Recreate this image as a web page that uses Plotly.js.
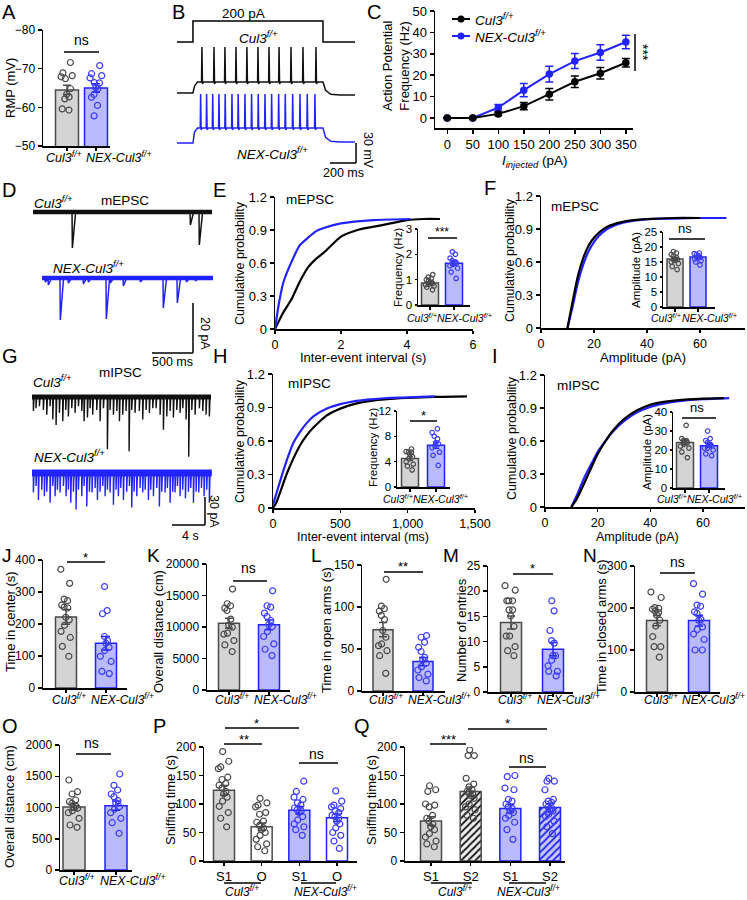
<!DOCTYPE html>
<html><head><meta charset="utf-8">
<script src="https://cdn.plot.ly/plotly-3.0.1.min.js"></script>
<style>html,body{margin:0;padding:0;background:#fff}#chart{width:747px;height:900px}</style>
</head><body><div id="chart"></div>
<script>
// ================= DATA =================
const genotypes = ['<i>Cul3<sup>f/+</sup></i>', '<i>NEX-Cul3<sup>f/+</sup></i>'];
// A: resting membrane potential (mV)
const rmpCul3 = [-71.6,-68.9,-68.2,-67.9,-67.4,-64.8,-63.4,-62.7,-62.2,-59.6,-59.3];
const rmpNEX = [-70.8,-68.7,-68.2,-67.6,-66.4,-66.3,-65.1,-64.8,-63.3,-62.6,-60.5,-57.8];
const rmpMean = [-64.5,-65.0];
const rmpSem = [1.2,1.1];
// B: 200 pA step, spike times (ms) and membrane levels [rest, plateau, peak, after] (mV)
const stepCurrent = [0,200];
const stepWindow = [0,1000];
const spikeTimesCul3 = [69,162,246,331,415,500,585,662,754,846,946];
const spikeTimesNEX = [59,105,152,200,248,300,348,400,451,502,554,605,659,710,767,823,879,938];
const vmCul3 = [-65,-48.5,4,-68];
const vmNEX = [-65,-42.5,8.5,-63.5];
// C: AP frequency (Hz) vs injected current (pA)
const currentSteps = [0,50,100,150,200,250,300,350];
const apFreqCul3 = [0,0,1.9,5.5,11.1,16.9,20.9,25.8];
const apSemCul3 = [0,0,0.8,1.7,2.7,2.7,2.7,2.0];
const apFreqNEX = [0,0,4.8,13.0,20.5,26.6,30.6,35.5];
const apSemNEX = [0,0,1.5,3.1,3.7,3.5,3.6,3.2];
// D: mEPSC events (ms, pA)
const mepscCul3Times = [476,1915,2024];
const mepscCul3Amps = [14.4,5.2,13.2];
const mepscNEXTimes = [146,183,329,427,610,671,890,939,1098,1305,1585,1756,1866,1976];
const mepscNEXAmps = [1.6,2.8,16.8,2,2.4,1.6,16.4,2,3.2,1.6,12,10,1.6,1.2];
// E: mEPSC inter-event interval cumulative (s)
const eCul3X = [0,0.25,0.5,0.75,1,1.25,1.5,2,2.5,3,3.5,4,4.5,5];
const eCul3Y = [0,0.15,0.27,0.43,0.56,0.64,0.7,0.84,0.9,0.93,0.96,0.99,1.0,1.0];
const eNEXX = [0,0.1,0.25,0.5,0.75,1,1.25,1.5,2,3,4.1];
const eNEXY = [0,0.2,0.42,0.61,0.76,0.83,0.89,0.92,0.96,0.99,1.0];
const mepscFreqCul3 = [1.2,1.1,1.05,1.0,0.95,0.9,0.88,0.85,0.82,0.8,0.75,0.7,0.6];
const mepscFreqNEX = [2.1,2.0,1.85,1.75,1.7,1.68,1.65,1.6,1.55,1.45,1.3,1.05];
const mepscFreqMean = [0.87,1.65];
const mepscFreqSem = [0.05,0.08];
// F: mEPSC amplitude cumulative (pA)
const fCul3X = [10,12,14,16,18,20,22,25,30,35,40,50,60];
const fCul3Y = [0,0.25,0.48,0.64,0.75,0.82,0.87,0.92,0.96,0.98,0.99,1.0,1.0];
const fNEXX = [10,12,14,16,18,20,22,25,30,35,40,50,60,70];
const fNEXY = [0,0.2,0.42,0.58,0.7,0.78,0.84,0.9,0.95,0.975,0.99,0.995,1.0,1.0];
const mepscAmpCul3 = [18.5,18,17.5,17,16.5,16,15.8,15.5,15,14.5,13.5,12.5];
const mepscAmpNEX = [18,17.8,17.5,17,16.8,16.5,16.5,16,15.5,15,14];
const mepscAmpMean = [16.0,16.7];
const mepscAmpSem = [0.5,0.4];
// G: mIPSC events (s, pA)
const mipscCul3Times = [0.16,0.48,0.89,1.37,1.78,2.18,2.51,2.91,3.31,3.72,4.08,4.40,4.81,5.21,5.62,6.02,6.30,6.71,7.03,7.35,7.84,8.24,8.65,9.13,9.45,9.86,10.27,10.59,10.99,11.39,11.76,12.08,12.48,13.0,13.41,13.82,14.22,14.63,15.03,15.52,15.92,16.33,16.73,17.13,17.54,17.94,18.27,18.67,18.99,19.36,19.76,20.28,20.69,21.09,21.49];
const mipscCul3Amps = [15,12,10,14,19,10,24,30,17,26,14,21,12,17,10,15,26,22,12,19,14,26,12,56,14,19,15,26,19,15,58,14,17,15,24,14,17,12,12,19,35,21,15,22,14,17,12,24,64,14,19,12,15,19,21];
const mipscNEXTimes = [0.16,0.48,0.77,1.17,1.49,1.78,2.18,2.51,2.79,3.07,3.39,3.80,4.12,4.40,4.69,5.01,5.33,5.62,6.02,6.30,6.63,6.95,7.27,7.64,7.92,8.24,8.57,8.85,9.13,9.45,9.86,10.18,10.46,10.75,11.07,11.47,11.80,12.08,12.36,12.69,13.09,13.41,13.70,14.10,14.38,14.71,15.11,15.43,15.72,16.12,16.40,16.73,17.05,17.33,17.62,17.94,18.26,18.59,18.95,19.23,19.56,19.88,20.20,20.53,20.85,21.17,21.49];
const mipscNEXAmps = [21,14,29,18,25,20,32,14,25,18,21,14,25,18,32,20,39,18,25,14,36,20,21,16,29,20,14,25,18,21,34,18,25,16,29,20,14,37,20,25,16,21,18,29,18,25,16,36,20,21,16,32,20,21,14,25,18,27,20,16,32,20,21,16,25,18,32];
// H: mIPSC inter-event interval cumulative (ms)
const hCul3X = [0,25,50,100,150,200,250,300,400,500,600,700,850,1000,1200,1440];
const hCul3Y = [0,0.05,0.13,0.3,0.44,0.56,0.65,0.72,0.83,0.89,0.93,0.955,0.975,0.985,0.995,1.0];
const hNEXX = [0,25,50,100,150,200,250,300,400,500,600,700,850,1000,1200];
const hNEXY = [0.03,0.13,0.23,0.42,0.58,0.68,0.76,0.82,0.89,0.93,0.955,0.97,0.985,0.99,1.0];
const mipscFreqCul3 = [6,5.6,5.5,5.5,5.2,4.8,4.5,4,3.6,3.3,2.7];
const mipscFreqNEX = [9.2,8.6,8,7.6,7,6.8,6.5,6.2,5.5,5,3.4];
const mipscFreqMean = [4.5,6.6];
const mipscFreqSem = [0.3,0.5];
// I: mIPSC amplitude cumulative (pA)
const iCul3X = [10,12,15,18,20,23,26,30,35,40,45,50,60,68];
const iCul3Y = [0,0.07,0.22,0.38,0.48,0.6,0.7,0.8,0.88,0.93,0.955,0.97,0.985,0.99];
const iNEXX = [10,12,15,18,20,23,26,30,35,40,45,50,60,70];
const iNEXY = [0,0.1,0.27,0.41,0.5,0.6,0.69,0.78,0.86,0.91,0.94,0.96,0.98,0.99];
const mipscAmpCul3 = [33,26,25,25,24,24,23,22,21,19,16];
const mipscAmpNEX = [30,26,25,24,23,23,22,21,21,20,18,17];
const mipscAmpMean = [24,22.3];
const mipscAmpSem = [1.3,1.0];
// J: time in center (s)
const centerCul3 = [371,327,278,273,259,253,250,221,213,196,177,158,130,99];
const centerNEX = [317,242,232,161,148,140,127,117,99,83,52,45];
const centerMean = [222,140];
const centerSem = [23,21];
// K: overall distance (cm)
const distKCul3 = [16020,13690,13370,13000,12620,11250,10290,9970,9020,8860,7850,7160,6100];
const distKNEX = [15750,13370,13150,12200,11670,11030,10400,10080,9280,8490,7320,6470,5460];
const distKMean = [10600,10350];
const distKSem = [800,780];
// L: time in open arms (s)
const openCul3 = [133,101,98,95,90,85,72,64,56,54,48,42,21];
const openNEX = [66,64,58,52,47,40,37,33,29,25,20,16,12];
const openMean = [73,35];
const openSem = [8.5,5];
// M: number of entries
const entriesCul3 = [21.1,20.2,18.1,18.1,18.1,16.3,16.3,15.1,13,11.1,11.1,9,8.2,7.2];
const entriesNEX = [18.1,16.1,12.2,10.2,9.7,7.2,7.2,6.3,5.2,4.1,4.1,3.2];
const entriesMean = [13.8,8.5];
const entriesSem = [1.3,1.3];
// N: time in closed arms (s)
const closedCul3 = [238,225,201,199,197,193,189,183,171,157,132,108,108,83];
const closedNEX = [258,233,207,204,191,187,173,171,155,149,138,125,100,100];
const closedMean = [170,170];
const closedSem = [12,13];
// O: overall distance (cm)
const distOCul3 = [1440,1253,1216,1120,1093,1067,1024,1003,987,949,917,827,720,683];
const distONEX = [1536,1355,1280,1216,1173,1109,1077,1013,971,917,827,757,587];
const distOMean = [1010,1030];
const distOSem = [55,75];
// P: sniffing time (s), S1 vs object
const sessionsP = ['S1','O','S1','O'];
const sniffPCul3S1 = [192,175,165,162,147,143,136,133,128,122,118,112,105,96,85,75,60];
const sniffPCul3O = [110,102,98,95,85,82,70,68,62,58,55,50,45,38,30,25,18];
const sniffPNEXS1 = [140,122,112,108,102,98,93,90,88,85,78,72,65,60,55,45];
const sniffPNEXO = [123,105,98,95,92,88,85,80,78,75,70,65,58,50,45,35,22];
const sniffPMean = [124,60,89,76];
const sniffPSem = [8.5,6.5,6.5,6.5];
// Q: sniffing time (s), S1 vs S2
const sessionsQ = ['S1','S2','S1','S2'];
const sniffQCul3S1 = [132,125,122,100,98,95,80,75,70,65,60,55,48,42,35,30,25];
const sniffQCul3S2 = [195,185,185,145,135,130,125,122,120,118,115,110,100,95,90,80,75];
const sniffQNEXS1 = [150,148,128,125,108,105,100,95,92,88,85,80,75,68,55,38];
const sniffQNEXS2 = [145,140,140,125,108,105,103,100,95,92,90,88,82,78,70,60,48];
const sniffQMean = [70,122,92,94];
const sniffQSem = [7.5,8,7,7];

// ================= STYLE / LAYOUT =================
const W = 747, H = 900;
const FONT = 'Liberation Sans, Arial, Helvetica, sans-serif';
const GRAYLINE = '#4a4a4a', GRAYFILL = '#d4d4d4', BLUE = '#2222ff', BLUEFILL = '#babaff', BLUEPT = '#3c3cff';
const data = [];
const layout = {
  width: W, height: H, margin: {l:0, r:0, t:0, b:0},
  paper_bgcolor: '#fff', plot_bgcolor: 'rgba(0,0,0,0)',
  showlegend: false, barmode: 'overlay',
  font: {family: FONT, size: 13, color: '#000'},
  annotations: [], shapes: []
};
let nAx = 0;
function axes(xpx, ypx, xo, yo) {
  nAx++;
  const s = nAx === 1 ? '' : String(nAx);
  const base = {showgrid:false, zeroline:false, showline:true, linecolor:'#000', linewidth:1.5,
    ticks:'outside', ticklen:4, tickwidth:1.5, tickcolor:'#000',
    tickfont:{family:FONT, size:12, color:'#000'}, fixedrange:true, automargin:false};
  layout['xaxis' + s] = Object.assign({}, base, {domain:[xpx[0]/W, xpx[1]/W], anchor:'y' + s}, xo || {});
  layout['yaxis' + s] = Object.assign({}, base, {domain:[1 - ypx[1]/H, 1 - ypx[0]/H], anchor:'x' + s}, yo || {});
  return {x:'x' + s, y:'y' + s};
}
function txt(x, y, text, o) {
  o = o || {};
  const font = Object.assign({family:FONT, size:13, color:'#000'}, o.font || {});
  const a = Object.assign({xref:'paper', yref:'paper', x:x/W, y:1 - y/H, text:text, showarrow:false,
    xanchor:'center', yanchor:'middle', borderpad:0}, o);
  a.font = font;
  layout.annotations.push(a);
}
function seg(x0, y0, x1, y1, color, width) {
  layout.shapes.push({type:'line', xref:'paper', yref:'paper', x0:x0/W, x1:x1/W, y0:1 - y0/H, y1:1 - y1/H,
    line:{color:color || '#000', width:width || 1.5}});
}
function dseg(ax, x0, y0, x1, y1, color, width) {
  layout.shapes.push({type:'line', xref:ax.x, yref:ax.y, x0:x0, x1:x1, y0:y0, y1:y1,
    line:{color:color || '#000', width:width || 1.5}});
}
// bar + points panel
function barPanel(spec, groups) {
  const n = groups.length;
  const s = (spec.bars[1] - spec.bars[0]) / (n - 1);
  const xr = [(spec.x[0] - spec.bars[0]) / s, (spec.x[1] - spec.bars[0]) / s];
  const tf = {family:FONT, size:spec.tick || 12, color:'#000'};
  const xo = {range:xr, tickmode:'array', tickvals:groups.map((g, i) => i), ticklen:3};
  if (spec.ticktext) { xo.ticktext = spec.ticktext; xo.tickfont = {family:FONT, size:13, color:'#000'}; }
  else { xo.showticklabels = false; }
  const yo = {range:spec.yrange, tickmode:'array', tickvals:spec.yticks, tickfont:tf, ticklen:spec.ytl || 4};
  if (spec.yfmt) yo.tickformat = spec.yfmt;
  const ax = axes(spec.x, spec.y, xo, yo);
  const w = spec.barPx / s;
  groups.forEach((g, i) => {
    const bar = {type:'bar', x:[i], y:[g.mean], width:[w], xaxis:ax.x, yaxis:ax.y, hoverinfo:'skip',
      marker:{color:g.fill, line:{color:g.line, width:1.5}},
      error_y:{type:'data', array:[g.sem], color:g.line, thickness:1.5, width:spec.cap || 4}};
    if (g.pattern) bar.marker.pattern = g.pattern;
    data.push(bar);
    data.push({type:'box', x0:i, y:g.pts, xaxis:ax.x, yaxis:ax.y, boxpoints:'all', jitter:0.75, pointpos:0,
      width:w * 0.85, fillcolor:'rgba(0,0,0,0)', line:{width:0, color:g.pt}, whiskerwidth:0, hoverinfo:'skip',
      marker:{symbol:'circle-open', size:spec.pt || 6, color:g.pt, line:{width:1.2, color:g.pt}}});
  });
  return ax;
}
function genoLabels(spec, y, size, gap) {
  const mid = (spec.bars[0] + spec.bars[1]) / 2;
  txt(mid + 1, y, genotypes[0], {xanchor:'right', font:{size:size}});
  txt(mid + (gap || 4), y, genotypes[1], {xanchor:'left', font:{size:size}});
}
function insetLabels(spec, y, size, shift) {
  const mid = (spec.bars[0] + spec.bars[1]) / 2 + shift;
  const w0 = 2.86 * size, w1 = 5.25 * size, total = w0 + w1 + 3;
  const left = mid - total / 2;
  txt(left, y, genotypes[0], {xanchor:'left', font:{size:size}});
  txt(left + total, y, genotypes[1], {xanchor:'right', font:{size:size}});
}
const gC = (mean, sem, pts) => ({mean, sem, pts, fill:GRAYFILL, line:GRAYLINE, pt:GRAYLINE});
const gN = (mean, sem, pts) => ({mean, sem, pts, fill:BLUEFILL, line:BLUE, pt:BLUEPT});
function sig(x, y, label, x0, x1, ly, size) {
  txt(x, y, label, {font:{size:size || 13}});
  seg(x0, ly, x1, ly);
}

// ---------- panel letters ----------
[['A',1,12,20],['B',171,12,20],['C',366,12,20],['D',1,190,20],['E',212,190,20],['F',483,188,20],['G',1,356,20],['H',212,356,20],['I',491,356,20],
 ['J',1,555,19],['K',146,555,19],['L',310,555,19],['M',442,555,19],['N',582,555,19],['O',1,726,20],['P',152,726,20],['Q',353,726,20]]
 .forEach(p => txt(p[1], p[2], p[0], {xanchor:'left', font:{size:p[3]}}));

// ---------- A ----------
const specA = {x:[43,110], y:[30,146], bars:[67,96], barPx:23, yrange:[-50,-80], yticks:[-80,-70,-60,-50]};
barPanel(specA, [gC(rmpMean[0], rmpSem[0], rmpCul3), gN(rmpMean[1], rmpSem[1], rmpNEX)]);
genoLabels(specA, 157, 12.5, 3);
txt(11, 88, 'RMP (mV)', {textangle:-90});
sig(81, 40, 'ns', 64, 99, 52, 14);

// ---------- B ----------
function buildAP(spikes, vm, offset, tStart, tOn, tOff, tEnd) {
  const rest = vm[0], plateau = vm[1], peak = vm[2], after = vm[3];
  const x = [tStart, tOn, tOn + 12, tOn + 35], y = [rest, rest, plateau - 6, plateau];
  spikes.forEach(t => { x.push(t - 3, t, t + 4, t + 12); y.push(plateau, peak, plateau - 3, plateau); });
  x.push(tOff, tOff + 20, tOff + 60, tOff + 130, tEnd);
  y.push(plateau, after + 7, after + 1, after, after);
  return {x:x, y:y.map(v => v + offset)};
}
const axB = axes([175,365], [5,175], {visible:false, range:[-138,1323]}, {visible:false, range:[-188,67]});
const cmdScale = 31.5 / 200, cmdBase = 11.5;
data.push({type:'scatter', mode:'lines', xaxis:axB.x, yaxis:axB.y, hoverinfo:'skip',
  x:[-123, stepWindow[0], stepWindow[0], stepWindow[1], stepWindow[1], 1246],
  y:[stepCurrent[0], stepCurrent[0], stepCurrent[1], stepCurrent[1], stepCurrent[0], stepCurrent[0]].map(v => cmdBase + v * cmdScale),
  line:{color:'#000', width:1.5}});
const apC = buildAP(spikeTimesCul3, vmCul3, 0, -123, stepWindow[0], stepWindow[1], 1246);
const apN = buildAP(spikeTimesNEX, vmNEX, -75, -123, stepWindow[0], stepWindow[1], 1246);
data.push({type:'scatter', mode:'lines', xaxis:axB.x, yaxis:axB.y, hoverinfo:'skip', x:apC.x, y:apC.y, line:{color:'#111', width:1.5}});
data.push({type:'scatter', mode:'lines', xaxis:axB.x, yaxis:axB.y, hoverinfo:'skip', x:apN.x, y:apN.y, line:{color:BLUE, width:1.5}});
dseg(axB, 1054, -170, 1254, -170); dseg(axB, 1254, -170, 1254, -140);
txt(243, 13, stepCurrent[1] + ' pA', {font:{size:13.5}});
txt(258, 37, genotypes[0], {font:{size:13.5}});
txt(272, 153, genotypes[1], {font:{size:13.5}});
txt(368, 150, '30 mV', {textangle:90, font:{size:12.5}});
txt(343, 173, '200 ms', {font:{size:12.5}});

// ---------- C ----------
const tf13 = {family:FONT, size:13, color:'#000'};
const axC = axes([435,633], [11,128],
  {range:[-24,364], tickmode:'array', tickvals:currentSteps, tickfont:tf13},
  {range:[-4.7,50], tickmode:'array', tickvals:[0,10,20,30,40,50], tickfont:tf13});
data.push({type:'scatter', mode:'lines+markers', xaxis:axC.x, yaxis:axC.y, x:currentSteps, y:apFreqNEX, hoverinfo:'skip',
  line:{color:BLUE, width:2}, marker:{color:BLUE, size:7.5},
  error_y:{type:'data', array:apSemNEX, color:BLUE, thickness:1.5, width:4}});
data.push({type:'scatter', mode:'lines+markers', xaxis:axC.x, yaxis:axC.y, x:currentSteps, y:apFreqCul3, hoverinfo:'skip',
  line:{color:'#000', width:2}, marker:{color:'#000', size:7.5},
  error_y:{type:'data', array:apSemCul3, color:'#000', thickness:1.5, width:4}});
txt(396, 66, 'Action Potential<br>Frequency (Hz)', {textangle:-90, font:{size:13}});
txt(535, 162, '<i>I<sub>injected</sub></i> (pA)', {font:{size:13.5}});
seg(452, 19, 470, 19, '#000', 2);
layout.shapes.push({type:'circle', xref:'paper', yref:'paper', x0:(461 - 3.5)/W, x1:(461 + 3.5)/W, y0:1 - (19 + 3.5)/H, y1:1 - (19 - 3.5)/H, fillcolor:'#000', line:{width:0}});
txt(474, 19, genotypes[0], {xanchor:'left', font:{size:13.5}});
seg(452, 36, 470, 36, BLUE, 2);
layout.shapes.push({type:'circle', xref:'paper', yref:'paper', x0:(461 - 3.5)/W, x1:(461 + 3.5)/W, y0:1 - (36 + 3.5)/H, y1:1 - (36 - 3.5)/H, fillcolor:BLUE, line:{width:0}});
txt(474, 36, genotypes[1], {xanchor:'left', font:{size:13.5}});
seg(635, 34, 635, 71);
txt(643, 52, '***', {textangle:90, font:{size:14}});

// ---------- D ----------
function buildEvents(times, amps, offset, tStart, tEnd, rise, decay) {
  const x = [tStart], y = [offset];
  times.forEach((t, i) => { x.push(t, t + rise, t + rise + decay); y.push(offset, offset - amps[i], offset); });
  x.push(tEnd); y.push(offset);
  return {x:x, y:y};
}
const axD = axes([33,213], [195,360], {visible:false, range:[0,2195]}, {visible:false, range:[-59.2,6.8]});
[[mepscCul3Times, mepscCul3Amps, 0, 0, 2183, '#111'], [mepscNEXTimes, mepscNEXAmps, -26.4, 110, 2195, BLUE]].forEach(r => {
  data.push({type:'scatter', mode:'lines', xaxis:axD.x, yaxis:axD.y, hoverinfo:'skip', x:[r[3], r[4]], y:[r[2], r[2]], line:{color:r[5], width:4.5}});
  const ev = buildEvents(r[0], r[1], r[2], r[3], r[4], 4, 40);
  data.push({type:'scatter', mode:'lines', xaxis:axD.x, yaxis:axD.y, hoverinfo:'skip', x:ev.x, y:ev.y, line:{color:r[5], width:1.5}});
});
dseg(axD, 1451, -56.4, 1951, -56.4); dseg(axD, 1951, -56.4, 1951, -36.4);
txt(125, 200, 'mEPSC', {font:{size:13.5}});
txt(33, 202, genotypes[0], {xanchor:'left', font:{size:13.5}});
txt(52, 267, genotypes[1], {xanchor:'left', font:{size:13.5}});
txt(205, 333, '20 pA', {textangle:90, font:{size:12.5}});
txt(172, 362, '500 ms', {font:{size:12.5}});

// ---------- cumulative panels ----------
const cumY = {range:[0,1.2], tickmode:'array', tickvals:[0,0.3,0.6,0.9,1.2], ticktext:['0','0.3','0.6','0.9','1.2'], tickfont:tf13};
function cumLine(ax, x, y, color) {
  data.push({type:'scatter', mode:'lines', xaxis:ax.x, yaxis:ax.y, x:x, y:y, hoverinfo:'skip',
    line:{color:color, width:2.2, shape:'spline', smoothing:0.6}});
}
const tfx = {family:FONT, size:12.5, color:'#000'};
// E
const axE = axes([275,473], [197,329], {range:[0,6], tickmode:'array', tickvals:[0,2,4,6], tickfont:tfx, ticklen:3}, cumY);
cumLine(axE, eCul3X, eCul3Y, '#000'); cumLine(axE, eNEXX, eNEXY, BLUE);
txt(240, 263, 'Cumulative probability', {textangle:-90, font:{size:12.5}});
txt(363, 357, 'Inter-event interval (s)', {font:{size:13}});
txt(285, 199, 'mEPSC', {xanchor:'left', font:{size:13.5}});
const specEi = {x:[418,470], y:[229,305], bars:[430,454], barPx:17, yrange:[0,3], yticks:[0,1,2,3], tick:11.5, pt:4.5, cap:3, ytl:2};
barPanel(specEi, [gC(mepscFreqMean[0], mepscFreqSem[0], mepscFreqCul3), gN(mepscFreqMean[1], mepscFreqSem[1], mepscFreqNEX)]);
insetLabels(specEi, 318, 10.5, 8);
txt(398, 268, 'Frequency (Hz)', {textangle:-90, font:{size:11.5}});
sig(442, 232, '***', 428, 457, 238, 12);

// F
const axF = axes([541,745], [196,328], {range:[0,77], tickmode:'array', tickvals:[0,20,40,60], tickfont:tfx, ticklen:3}, cumY);
cumLine(axF, fNEXX, fNEXY, BLUE); cumLine(axF, fCul3X, fCul3Y, '#000');
txt(510, 260, 'Cumulative probability', {textangle:-90, font:{size:12.5}});
txt(643, 357, 'Amplitude (pA)', {font:{size:13}});
txt(550, 207, 'mEPSC', {xanchor:'left', font:{size:13.5}});
const specFi = {x:[663,715], y:[232,307], bars:[675,698], barPx:16, yrange:[0,25], yticks:[0,5,10,15,20,25], tick:11.5, pt:4.5, cap:3, ytl:2};
barPanel(specFi, [gC(mepscAmpMean[0], mepscAmpSem[0], mepscAmpCul3), gN(mepscAmpMean[1], mepscAmpSem[1], mepscAmpNEX)]);
insetLabels(specFi, 318, 10.5, 8);
txt(636, 270, 'Amplitude (pA)', {textangle:-90, font:{size:11.5}});
sig(685, 228, 'ns', 669, 705, 239, 13);

// ---------- G ----------
const axG = axes([32,212], [378,532], {visible:false, range:[0,21.82]}, {visible:false, range:[-144.5,20.3]});
[[mipscCul3Times, mipscCul3Amps, 0, 0, 21.7, '#111', 5], [mipscNEXTimes, mipscNEXAmps, -81.3, 0, 21.8, BLUE, 7]].forEach(r => {
  data.push({type:'scatter', mode:'lines', xaxis:axG.x, yaxis:axG.y, hoverinfo:'skip', x:[r[3], r[4]], y:[r[2], r[2]], line:{color:r[5], width:r[6]}});
  const ev = buildEvents(r[0], r[1], r[2], r[3], r[4], 0.01, 0.08);
  data.push({type:'scatter', mode:'lines', xaxis:axG.x, yaxis:axG.y, hoverinfo:'skip', x:ev.x, y:ev.y, line:{color:r[5], width:1.4}});
});
dseg(axG, 16.97, -137, 20.97, -137); dseg(axG, 20.97, -137, 20.97, -107);
txt(120, 373, 'mIPSC', {font:{size:13.5}});
txt(32, 381, genotypes[0], {xanchor:'left', font:{size:13.5}});
txt(33, 456, genotypes[1], {xanchor:'left', font:{size:13.5}});
txt(214, 511, '30 pA', {textangle:90, font:{size:12.5}});
txt(190, 536, '4 s', {font:{size:12.5}});

// H
const axH = axes([273,475], [374,508], {range:[0,1500], tickmode:'array', tickvals:[0,500,1000,1500], tickformat:',d', tickfont:tfx, ticklen:3}, cumY);
cumLine(axH, hCul3X, hCul3Y, '#000'); cumLine(axH, hNEXX, hNEXY, BLUE);
txt(240, 441, 'Cumulative probability', {textangle:-90, font:{size:12.5}});
txt(363, 537, 'Inter-event interval (ms)', {font:{size:12.5}});
txt(287, 383, 'mIPSC', {xanchor:'left', font:{size:13.5}});
const specHi = {x:[397,450], y:[411,487], bars:[410,436], barPx:17, yrange:[0,12], yticks:[0,4,8,12], tick:11.5, pt:4.5, cap:3, ytl:2};
barPanel(specHi, [gC(mipscFreqMean[0], mipscFreqSem[0], mipscFreqCul3), gN(mipscFreqMean[1], mipscFreqSem[1], mipscFreqNEX)]);
insetLabels(specHi, 499, 10.5, 3);
txt(373, 448, 'Frequency (Hz)', {textangle:-90, font:{size:11.5}});
sig(423, 415, '*', 410, 437, 421, 13);

// I
const axI = axes([545,745], [375,507], {range:[0,76], tickmode:'array', tickvals:[0,20,40,60], tickfont:tfx, ticklen:3}, cumY);
cumLine(axI, iNEXX, iNEXY, BLUE); cumLine(axI, iCul3X, iCul3Y, '#000');
txt(512, 438, 'Cumulative probability', {textangle:-90, font:{size:12.5}});
txt(637, 537, 'Amplitude (pA)', {font:{size:12.5}});
txt(556, 385, 'mIPSC', {xanchor:'left', font:{size:13.5}});
const specIi = {x:[673,725], y:[412,488], bars:[685,709], barPx:17, yrange:[0,40], yticks:[0,10,20,30,40], tick:11.5, pt:4.5, cap:3, ytl:2};
barPanel(specIi, [gC(mipscAmpMean[0], mipscAmpSem[0], mipscAmpCul3), gN(mipscAmpMean[1], mipscAmpSem[1], mipscAmpNEX)]);
insetLabels(specIi, 499, 10.5, 3);
txt(647, 452, 'Amplitude (pA)', {textangle:-90, font:{size:11.5}});
sig(697, 407, 'ns', 682, 716, 418, 13);

// ---------- J-N ----------
const specJ = {x:[43,127], y:[560,688], bars:[66,106], barPx:21, yrange:[0,400], yticks:[0,100,200,300,400]};
barPanel(specJ, [gC(centerMean[0], centerSem[0], centerCul3), gN(centerMean[1], centerSem[1], centerNEX)]);
genoLabels(specJ, 699, 12); txt(10, 622, 'Time in center (s)', {textangle:-90});
sig(85, 557, '*', 67, 105, 562, 13);

const specK = {x:[207,290], y:[564,690], bars:[229,269], barPx:21, yrange:[0,20000], yticks:[0,5000,10000,15000,20000], yfmt:'d'};
barPanel(specK, [gC(distKMean[0], distKSem[0], distKCul3), gN(distKMean[1], distKSem[1], distKNEX)]);
genoLabels(specK, 699, 12); txt(158, 632, 'Overall distance (cm)', {textangle:-90});
sig(248, 568, 'ns', 233, 267, 581, 14);

const specL = {x:[362,445], y:[565,691], bars:[383,423], barPx:20, yrange:[0,150], yticks:[0,50,100,150]};
barPanel(specL, [gC(openMean[0], openSem[0], openCul3), gN(openMean[1], openSem[1], openNEX)]);
genoLabels(specL, 699, 12); txt(326, 630, 'Time in open arms (s)', {textangle:-90});
sig(403, 566, '**', 384, 423, 572, 13);

const specM = {x:[488,573], y:[566,692], bars:[511,553], barPx:21, yrange:[0,25], yticks:[0,5,10,15,20,25]};
barPanel(specM, [gC(entriesMean[0], entriesSem[0], entriesCul3), gN(entriesMean[1], entriesSem[1], entriesNEX)]);
genoLabels(specM, 699, 12); txt(461, 630, 'Number of entries', {textangle:-90});
sig(532, 568, '*', 513, 553, 574, 13);

const specN = {x:[635,720], y:[566,692], bars:[657,699], barPx:21, yrange:[0,300], yticks:[0,100,200,300]};
barPanel(specN, [gC(closedMean[0], closedSem[0], closedCul3), gN(closedMean[1], closedSem[1], closedNEX)]);
genoLabels(specN, 699, 12, 2.5); txt(601, 627, 'Time in closed arms (s)', {textangle:-90});
sig(677, 562, 'ns', 660, 695, 573, 14);

// ---------- O ----------
const specO = {x:[60,132], y:[745,870], bars:[74,116], barPx:22, yrange:[0,2000], yticks:[0,500,1000,1500,2000], yfmt:'d'};
barPanel(specO, [gC(distOMean[0], distOSem[0], distOCul3), gN(distOMean[1], distOSem[1], distONEX)]);
genoLabels(specO, 880, 12.5); txt(9, 807, 'Overall distance (cm)', {textangle:-90});
sig(91, 743, 'ns', 76, 111, 754, 14);

// ---------- P ----------
const specP = {x:[204,357], y:[747,861], bars:[224,337], barPx:21, yrange:[0,200], yticks:[0,50,100,150,200], ticktext:sessionsP};
barPanel(specP, [
  gC(sniffPMean[0], sniffPSem[0], sniffPCul3S1),
  {mean:sniffPMean[1], sem:sniffPSem[1], pts:sniffPCul3O, fill:'#ffffff', line:GRAYLINE, pt:GRAYLINE},
  gN(sniffPMean[2], sniffPSem[2], sniffPNEXS1),
  {mean:sniffPMean[3], sem:sniffPSem[3], pts:sniffPNEXO, fill:'#ffffff', line:BLUE, pt:BLUEPT}]);
txt(170, 800, 'Sniffing time (s)', {textangle:-90});
sig(256, 723, '*', 225, 299, 728, 13);
sig(244, 739, '**', 224, 262, 744, 13);
sig(316, 754, 'ns', 299, 338, 763, 14);
seg(224, 883, 261, 883); seg(301, 883, 336, 883);
txt(242, 891, genotypes[0], {font:{size:12}}); txt(325, 891, genotypes[1], {font:{size:12}});

// ---------- Q ----------
const specQ = {x:[405,565], y:[747,861], bars:[431,550], barPx:21, yrange:[0,200], yticks:[0,50,100,150,200], ticktext:sessionsQ};
barPanel(specQ, [
  gC(sniffQMean[0], sniffQSem[0], sniffQCul3S1),
  {mean:sniffQMean[1], sem:sniffQSem[1], pts:sniffQCul3S2, fill:'#eeeeee', line:GRAYLINE, pt:GRAYLINE,
   pattern:{shape:'/', fgcolor:'#111', bgcolor:'#eeeeee', size:5, solidity:0.35}},
  gN(sniffQMean[2], sniffQSem[2], sniffQNEXS1),
  {mean:sniffQMean[3], sem:sniffQSem[3], pts:sniffQNEXS2, fill:'#c8c8ff', line:BLUE, pt:BLUEPT,
   pattern:{shape:'/', fgcolor:BLUE, bgcolor:'#c8c8ff', size:5, solidity:0.35}}]);
txt(371, 800, 'Sniffing time (s)', {textangle:-90});
sig(448, 739, '***', 430, 466, 744, 13);
sig(507, 723, '*', 468, 547, 729, 13);
sig(526, 758, 'ns', 509, 546, 767, 14);
seg(431, 883, 472, 883); seg(509, 883, 546, 883);
txt(455, 891, genotypes[0], {font:{size:12}}); txt(528, 891, genotypes[1], {font:{size:12}});

Plotly.newPlot('chart', data, layout, {staticPlot:true, displayModeBar:false});
</script>
</body></html>
